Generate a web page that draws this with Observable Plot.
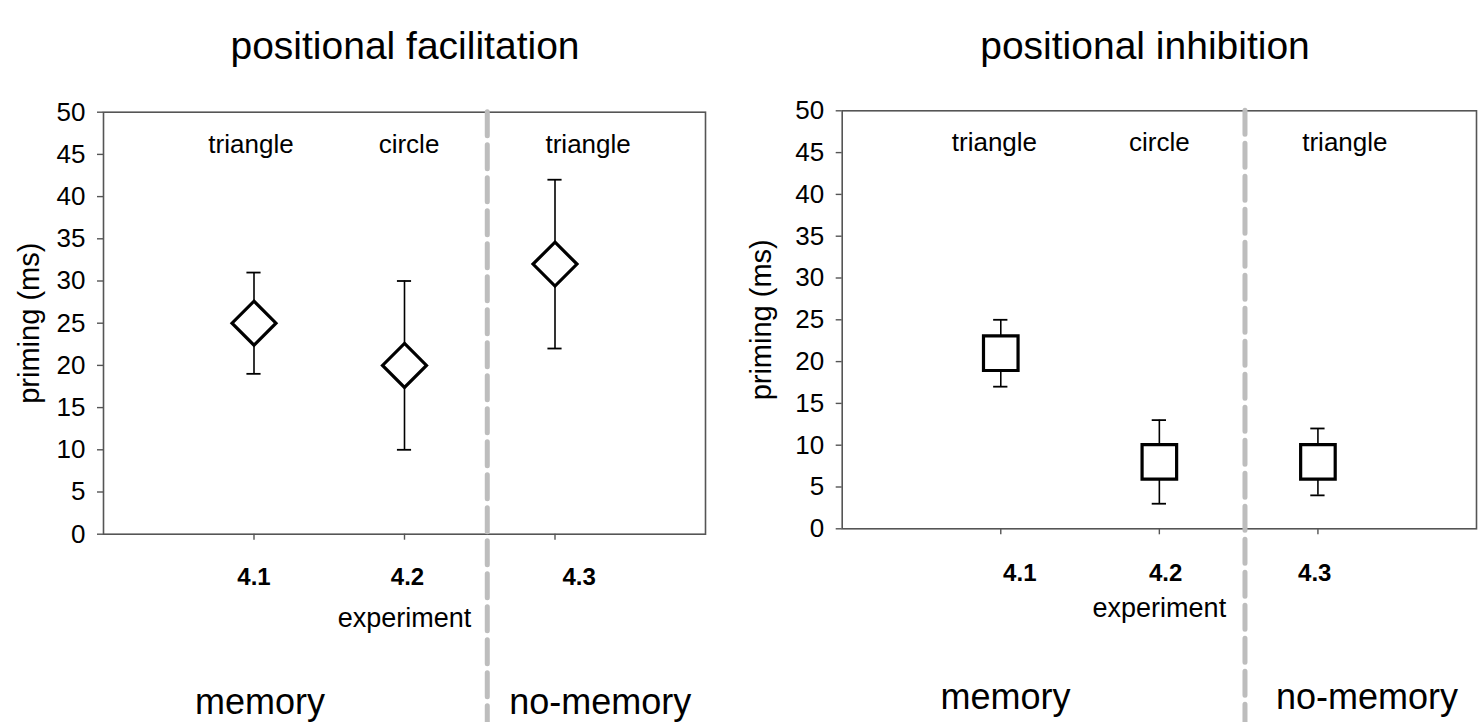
<!DOCTYPE html>
<html>
<head>
<meta charset="utf-8">
<script src="https://cdn.jsdelivr.net/npm/d3@7"></script>
<script src="https://cdn.jsdelivr.net/npm/@observablehq/plot@0.6"></script>
<style>
  html, body { margin: 0; padding: 0; background: #fff; }
  #root { position: relative; width: 1484px; height: 722px; overflow: hidden; font-family: "Liberation Sans", Arial, sans-serif; }
  .title { position: absolute; top: 26px; transform: translateX(-50%); font-size: 39px; color: #000; white-space: nowrap; line-height: 1; }
  .panel { position: absolute; top: 0; }
  .panel svg { overflow: visible; }
</style>
</head>
<body>
<div id="root"></div>
<script>
// ---- data ----
const experiments = ["4.1", "4.2", "4.3"];
const shapes = ["triangle", "circle", "triangle"];
const groups = ["memory", "no-memory"];
const axisLabel = "priming (ms)";
const xLabel = "experiment";
const yTicks = [0, 5, 10, 15, 20, 25, 30, 35, 40, 45, 50];

const titles = ["positional facilitation", "positional inhibition"];
const facMean = [25, 20, 32];
const facLow  = [19, 10, 22];
const facHigh = [31, 30, 42];
const inhMean = [21, 8, 8];
const inhLow  = [17, 3, 4];
const inhHigh = [25, 13, 12];

// ---- build ----
function rows(mean, low, high) {
  return experiments.map((e, i) => ({ exp: e, pos: i + 1, shape: shapes[i], mean: mean[i], low: low[i], high: high[i] }));
}

function panel(cfg) {
  const data = rows(cfg.mean, cfg.low, cfg.high);
  const font = "Liberation Sans, Arial, sans-serif";
  return Plot.plot({
    width: cfg.width,
    height: 722,
    marginLeft: cfg.ml,
    marginRight: cfg.mr,
    marginTop: cfg.mt,
    marginBottom: cfg.mb,
    style: { fontFamily: font, background: "white", overflow: "visible" },
    x: { domain: [0, 4], axis: null },
    y: { domain: [0, 50], axis: null },
    marks: [
      Plot.frame({ stroke: "#555", strokeWidth: 1.6 }),
      Plot.axisY({ ticks: yTicks, tickSize: 6, tickPadding: 12, fontSize: 26, stroke: "#555", strokeWidth: 1.4, color: "#000", label: null }),
      Plot.axisX({ ticks: [1, 2, 3], tickSize: 6, tickFormat: () => "", stroke: "#555", strokeWidth: 1.4, label: null }),
      // y-axis title
      Plot.text([axisLabel], { text: d => d, frameAnchor: "left", dx: -cfg.labelOffset, rotate: -90, lineAnchor: "middle", textAnchor: "middle", fontSize: 29, fill: "#000" }),
      // group divider
      Plot.ruleX([cfg.divider], { x: d => d, y1: 50, y2: -30, stroke: "#bdbdbd", strokeWidth: 5, strokeDasharray: "24,9", strokeLinecap: "round", clip: false }),
      // error bars
      Plot.ruleX(data, { x: "pos", y1: "low", y2: "high", stroke: "#000", strokeWidth: 1.6 }),
      Plot.ruleY(data, { y: "low", x1: d => d.pos - cfg.cap, x2: d => d.pos + cfg.cap, stroke: "#000", strokeWidth: 1.8 }),
      Plot.ruleY(data, { y: "high", x1: d => d.pos - cfg.cap, x2: d => d.pos + cfg.cap, stroke: "#000", strokeWidth: 1.8 }),
      // markers
      Plot.dot(data, { x: "pos", y: "mean", symbol: () => cfg.symbol, r: cfg.r, fill: "white", stroke: "#000", strokeWidth: 3.2 }),
      // shape labels
      Plot.text(data, { x: d => d.pos + cfg.shapeDx[d.pos - 1], text: "shape", frameAnchor: "top", lineAnchor: "middle", dy: 32, fontSize: 26, fill: "#000" }),
      // experiment numbers
      Plot.text(data, { x: d => d.pos + cfg.expDx[d.pos - 1], text: "exp", frameAnchor: "bottom", lineAnchor: "middle", dy: cfg.expDy, fontSize: 24, fontWeight: "bold", fill: "#000" }),
      Plot.text([xLabel], { x: 2, text: d => d, frameAnchor: "bottom", lineAnchor: "middle", dy: cfg.xlabDy, fontSize: 27, fill: "#000" }),
      Plot.text(groups, { x: (d, i) => cfg.groupX[i], text: d => d, frameAnchor: "bottom", lineAnchor: "middle", dy: cfg.groupDy, fontSize: 36, fill: "#000" })
    ]
  });
}

const root = document.getElementById("root");

const left = panel({
  width: 740, ml: 103, mr: 35, mt: 111.7, mb: 188.3,
  mean: facMean, low: facLow, high: facHigh,
  symbol: "diamond2", r: 19.8, cap: 0.047, divider: 2.55, labelOffset: 74,
  shapeDx: [-0.02, 0.03, 0.22], expDx: [0, 0.02, 0.16],
  expDy: 43, xlabDy: 84, groupX: [1.04, 3.3], groupDy: 168
});
const right = panel({
  width: 744, ml: 101.7, mr: 8, mt: 110.3, mb: 193.7,
  mean: inhMean, low: inhLow, high: inhHigh,
  symbol: "square2", r: 22, cap: 0.045, divider: 2.54, labelOffset: 80,
  shapeDx: [-0.04, 0.0, 0.17], expDx: [0.12, 0.04, -0.02],
  expDy: 45, xlabDy: 80, groupX: [1.03, 3.31], groupDy: 169
});

const lp = document.createElement("div"); lp.className = "panel"; lp.style.left = "0px"; lp.appendChild(left);
const rp = document.createElement("div"); rp.className = "panel"; rp.style.left = "740px"; rp.appendChild(right);
root.appendChild(lp); root.appendChild(rp);

[[titles[0], 405], [titles[1], 1145]].forEach(([t, x]) => {
  const d = document.createElement("div");
  d.className = "title"; d.textContent = t; d.style.left = x + "px";
  root.appendChild(d);
});
</script>
</body>
</html>
